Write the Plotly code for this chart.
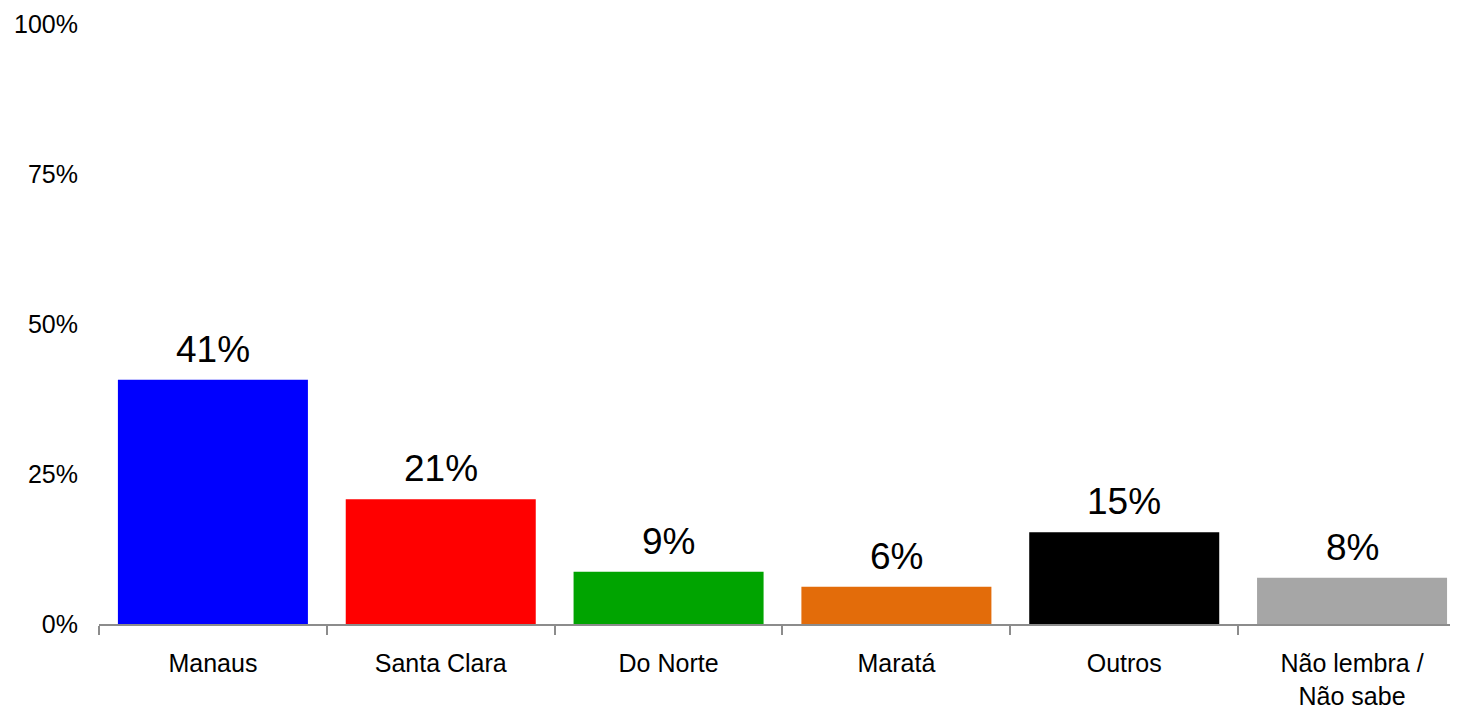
import plotly.graph_objects as go

categories = ["Manaus", "Santa Clara", "Do Norte", "Maratá", "Outros", "Não lembra /<br>Não sabe"]
values = [0.407, 0.208, 0.087, 0.062, 0.153, 0.077]
colors = ["#0000FF", "#FF0000", "#00A400", "#E36C0A", "#000000", "#A6A6A6"]
y_ticks = [0, 0.25, 0.5, 0.75, 1.0]
y_ticklabels = ["0%", "25%", "50%", "75%", "100%"]

FONT = "Liberation Sans, Arial, sans-serif"

fig = go.Figure()
fig.add_trace(go.Bar(
    x=categories,
    y=values,
    marker=dict(color=colors, line=dict(width=0)),
    width=0.834,
    hoverinfo="skip",
))

for cat, v in zip(categories, values):
    fig.add_annotation(
        x=cat, y=v, xref="x", yref="y",
        text=f"{round(v * 100):.0f}%",
        showarrow=False, yanchor="bottom", yshift=8,
        font=dict(family=FONT, size=37, color="#000000"),
    )

# page body has an 8px default margin; size the figure to fill the remaining view
fig.update_layout(
    width=1450, height=700,
    margin=dict(l=91, r=0, t=16, b=84, autoexpand=False),
    paper_bgcolor="white", plot_bgcolor="white",
    showlegend=False,
    font=dict(family=FONT, size=25, color="#000000"),
    xaxis=dict(
        type="category",
        range=[-0.5, 5.465],
        tickson="boundaries",
        ticks="outside", ticklen=9, tickcolor="#8C8C8C", tickwidth=1.5,
        showline=True, linecolor="#8C8C8C", linewidth=2,
        showgrid=False, zeroline=False,
        ticklabelstandoff=16,
        tickfont=dict(family=FONT, size=25, color="#000000"),
    ),
    yaxis=dict(
        range=[0, 1],
        tickmode="array",
        tickvals=y_ticks,
        ticktext=y_ticklabels,
        showline=False, showgrid=False, zeroline=False,
        ticks="",
        ticklabelstandoff=20,
        tickfont=dict(family=FONT, size=25, color="#000000"),
    ),
)

fig.write_html("out.html")
